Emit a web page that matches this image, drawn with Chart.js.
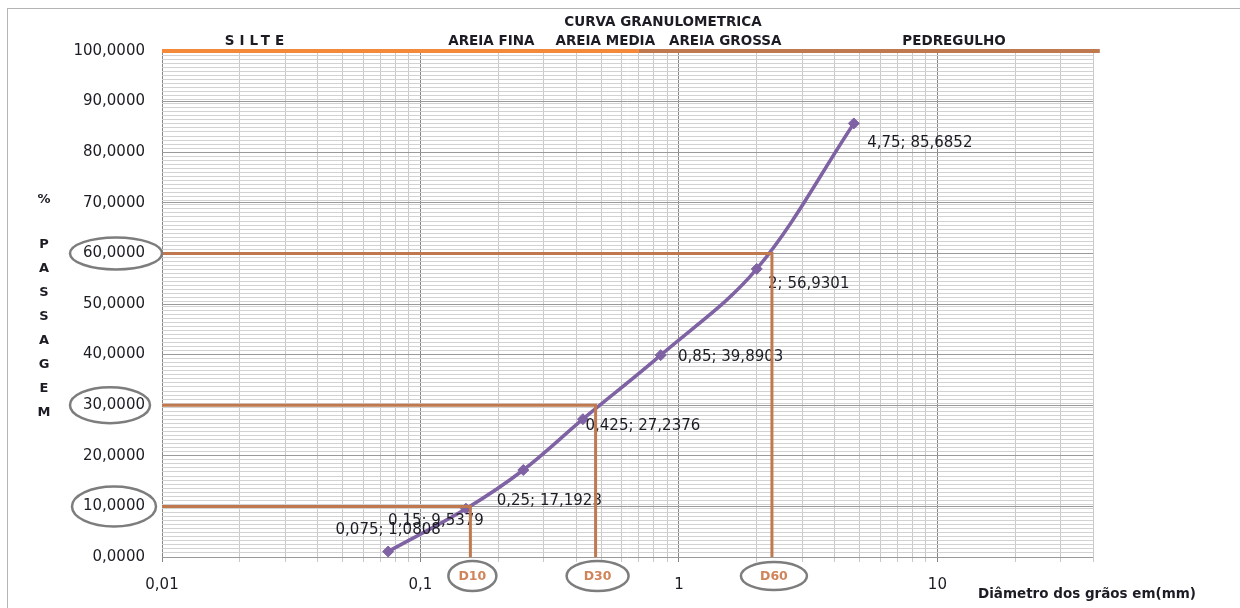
<!DOCTYPE html>
<html>
<head>
<meta charset="utf-8">
<script src="https://cdn.jsdelivr.net/npm/chart.js@4.4.1/dist/chart.umd.min.js"></script>
<style>
  html, body { margin: 0; padding: 0; background: #ffffff; }
  #wrap { width: 1240px; height: 608px; position: relative; }
</style>
</head>
<body>
<div id="wrap"><canvas id="c" width="1240" height="608"></canvas></div>
<script>
// Sieve analysis: grain diameter (mm) and percent passing
const sieveSizes = [0.075, 0.15, 0.25, 0.425, 0.85, 2, 4.75];
const percentPassing = [1.0808, 9.5379, 17.1923, 27.2376, 39.8903, 56.9301, 85.6852];

// Characteristic diameters read on the curve
const dNames = ['D10', 'D30', 'D60'];
const dLevels = [10, 30, 60];
const dDiameters = [0.156, 0.476, 2.29];

// Soil classification bands along the top of the chart
const bandNames = ['SILTE', 'AREIA FINA', 'AREIA MEDIA', 'AREIA GROSSA', 'PEDREGULHO'];
const bandLabelAt = [0.0229, 0.188, 0.519, 1.51, 11.6];
const topBarBreaks = [0.01, 0.7, 42.5];

// Axis ranges and ticks
const xMin = 0.01, xMax = 40;
const xDecades = [0.01, 0.1, 1, 10];
const yMin = 0, yMax = 100, yMajorStep = 10, yMinorStep = 0.8;

const FONT = '"DejaVu Sans", "Liberation Sans", sans-serif';
const PURPLE = '#7f62a3';
const BROWN = '#c0794f';
const ORANGE = '#f5893a';
const TEXT = '#1c1c24';

const fmtComma = (v, dec) => v.toFixed(dec).replace('.', ',');
const fmtPlain = v => String(v).replace('.', ',');
const isDecade = v => Math.abs(Math.log10(v) - Math.round(Math.log10(v))) < 1e-9;
const isYMajor = v => Math.abs(v / yMajorStep - Math.round(v / yMajorStep)) < 1e-6;

// Grid values for the log axis: 1..9 within each decade
const xGridValues = [];
for (let e = -2; e <= 1; e++) {
  for (let m = 1; m <= 9; m++) {
    const v = +(m * Math.pow(10, e)).toPrecision(6);
    if (v >= xMin - 1e-12 && v <= xMax + 1e-9) xGridValues.push(v);
  }
}
const yGridValues = [];
for (let v = yMin; v <= yMax + 1e-6; v += yMinorStep) yGridValues.push(+v.toFixed(4));
if (yGridValues[yGridValues.length - 1] < yMax) yGridValues.push(yMax);
for (let v = yMin; v <= yMax; v += yMajorStep) if (!yGridValues.some(g => Math.abs(g - v) < 1e-6)) yGridValues.push(v);
yGridValues.sort((a, b) => a - b);

const curve = sieveSizes.map((x, i) => ({ x, y: percentPassing[i] }));

const dLineSets = dNames.map((name, i) => ({
  label: name,
  data: [
    { x: xMin, y: dLevels[i] },
    { x: dDiameters[i], y: dLevels[i] },
    { x: dDiameters[i], y: yMin }
  ],
  showLine: true,
  borderColor: BROWN,
  borderWidth: 3,
  pointRadius: 0,
  tension: 0,
  order: 1
}));

const topBarSets = [
  { label: 'faixa fina', data: [{ x: topBarBreaks[0], y: yMax }, { x: topBarBreaks[1], y: yMax }], borderColor: ORANGE },
  { label: 'faixa grossa', data: [{ x: topBarBreaks[1], y: yMax }, { x: topBarBreaks[2], y: yMax }], borderColor: BROWN }
].map(d => Object.assign(d, { showLine: true, borderWidth: 4, pointRadius: 0, clip: false, order: 0 }));

// Offsets of each point's value label (pixels, relative to the marker)
const labelOffsets = [[0, -21], [-30, 12], [26, 31], [60, 7], [70, 2], [52, 15], [66, 20]];

const decorations = {
  id: 'decorations',
  beforeDraw(chart) {
    const ctx = chart.ctx;
    ctx.save();
    ctx.strokeStyle = '#b4b4b4';
    ctx.lineWidth = 1;
    ctx.strokeRect(7.5, 8.5, 1400, 800);
    ctx.restore();
  },
  afterDatasetDraw(chart, args) {
    if (args.index !== 0) return;
    const ctx = chart.ctx;
    const meta = args.meta;
    ctx.save();
    ctx.font = '15px ' + FONT;
    ctx.fillStyle = TEXT;
    ctx.textAlign = 'center';
    ctx.textBaseline = 'middle';
    meta.data.forEach((pt, i) => {
      const txt = fmtPlain(sieveSizes[i]) + '; ' + fmtComma(percentPassing[i], 4);
      const off = labelOffsets[i];
      ctx.fillText(txt, pt.x + off[0], pt.y + off[1]);
    });
    ctx.restore();
  },
  afterDraw(chart) {
    const ctx = chart.ctx;
    const xs = chart.scales.x, ys = chart.scales.y;
    ctx.save();
    ctx.fillStyle = TEXT;
    ctx.textAlign = 'center';
    ctx.textBaseline = 'middle';

    // Title
    ctx.font = 'bold 13.5px ' + FONT;
    ctx.fillText('CURVA GRANULOMETRICA', 663, 22);

    // Band names above the top bar
    bandNames.forEach((name, i) => {
      const x = xs.getPixelForValue(bandLabelAt[i]);
      if (name === 'SILTE') {
        ctx.letterSpacing = '5px';
        ctx.fillText(name, x + 2, 41);
        ctx.letterSpacing = '0px';
      } else {
        ctx.fillText(name, x, 41);
      }
    });

    // Vertical axis title
    ctx.font = 'bold 13px ' + FONT;
    ctx.fillText('%', 44, 200);
    'PASSAGEM'.split('').forEach((ch, i) => ctx.fillText(ch, 44, 245 + i * 24));

    // Horizontal axis title
    ctx.font = 'bold 13.5px ' + FONT;
    ctx.fillText('Diâmetro dos grãos em(mm)', 1087, 594);

    // Ellipses around the reference percentages and D labels
    ctx.strokeStyle = '#7d7d7d';
    ctx.lineWidth = 2.5;
    const yEll = [[114, 42, 20], [110, 40, 18], [116, 46, 16]];
    dLevels.forEach((lv, i) => {
      const y = ys.getPixelForValue(lv);
      ctx.beginPath();
      ctx.ellipse(yEll[i][0], y, yEll[i][1], yEll[i][2], 0, 0, Math.PI * 2);
      ctx.stroke();
    });
    const dEll = [[24, 15], [31, 15], [33, 14]];
    ctx.font = 'bold 12.5px ' + FONT;
    dDiameters.forEach((d, i) => {
      const x = xs.getPixelForValue(d) + 2;
      ctx.beginPath();
      ctx.ellipse(x, 576, dEll[i][0], dEll[i][1], 0, 0, Math.PI * 2);
      ctx.stroke();
      ctx.fillStyle = '#d0845a';
      ctx.fillText(dNames[i], x, 577);
    });
    ctx.restore();
  }
};

new Chart(document.getElementById('c'), {
  type: 'scatter',
  data: {
    datasets: [
      {
        label: 'Curva granulométrica',
        data: curve,
        showLine: true,
        borderColor: PURPLE,
        backgroundColor: PURPLE,
        borderWidth: 3.5,
        pointStyle: 'rectRot',
        pointRadius: 5.5,
        pointBorderWidth: 1,
        tension: 0.35,
        order: 2
      },
      ...dLineSets,
      ...topBarSets
    ]
  },
  options: {
    responsive: false,
    animation: false,
    devicePixelRatio: 1,
    layout: { padding: { left: 0, right: 147, top: 51, bottom: 0 } },
    plugins: { legend: { display: false }, tooltip: { enabled: false }, title: { display: false } },
    scales: {
      x: {
        type: 'logarithmic',
        min: xMin,
        max: xMax,
        afterBuildTicks: s => { s.ticks = xGridValues.map(v => ({ value: v })); },
        afterFit: s => { s.height = 51; },
        ticks: {
          autoSkip: false,
          maxRotation: 0,
          padding: 14,
          color: TEXT,
          font: { family: FONT, size: 15 },
          callback: v => (isDecade(v) && xDecades.includes(v)) ? fmtPlain(v) : ''
        },
        grid: {
          color: c => isDecade(c.tick.value) ? '#858585' : '#c9c9c9',
          lineWidth: 1,
          drawTicks: true,
          tickLength: 5
        },
        border: { display: false }
      },
      y: {
        min: yMin,
        max: yMax,
        afterBuildTicks: s => { s.ticks = yGridValues.map(v => ({ value: v })); },
        afterFit: s => { s.width = 162; },
        ticks: {
          autoSkip: false,
          padding: 17,
          color: TEXT,
          font: { family: FONT, size: 15 },
          callback: v => isYMajor(v) ? fmtComma(v, 4) : ''
        },
        grid: {
          color: c => isYMajor(c.tick.value) ? '#9a9a9a' : '#d2d2d2',
          lineWidth: 1,
          drawTicks: false
        },
        border: { display: false }
      }
    }
  },
  plugins: [decorations]
});
</script>
</body>
</html>
